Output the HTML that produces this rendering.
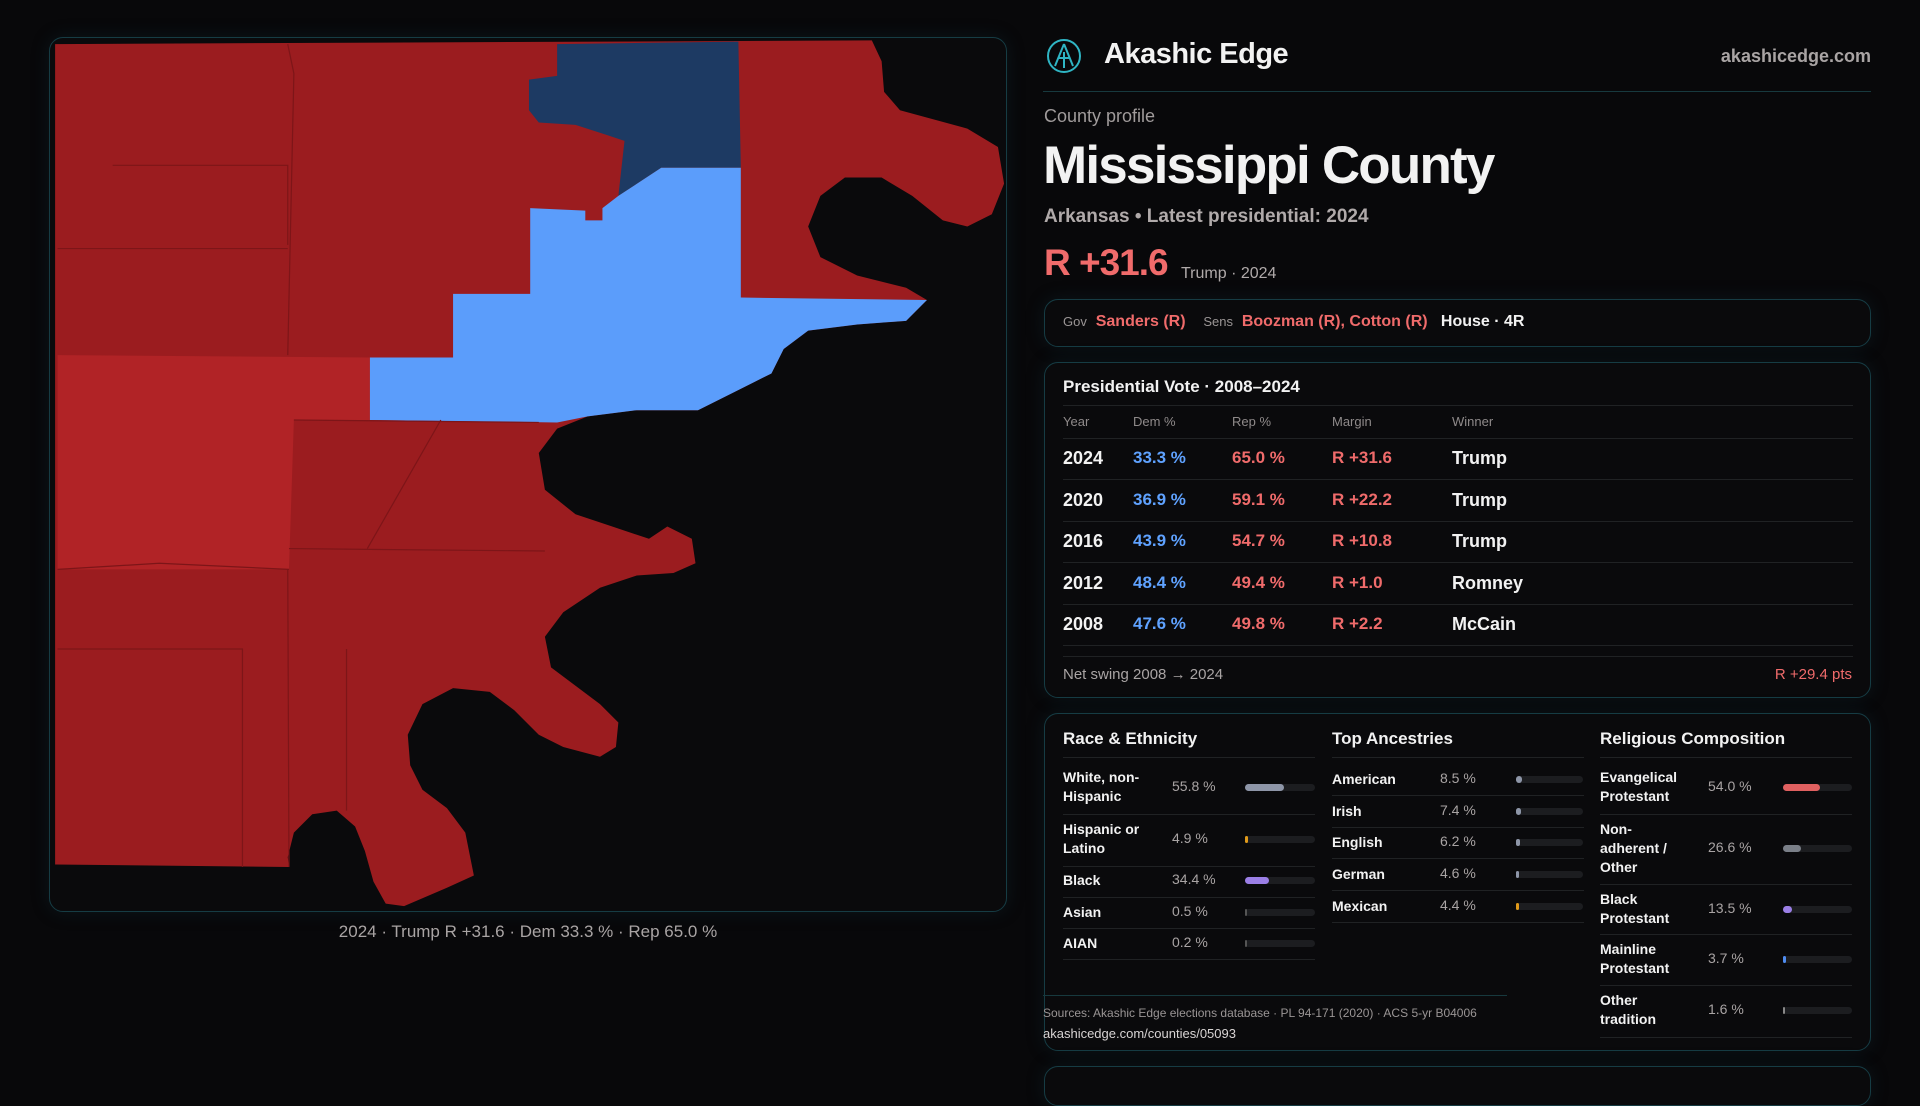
<!DOCTYPE html>
<html><head><meta charset="utf-8">
<style>
*{margin:0;padding:0;box-sizing:border-box}
body{width:1920px;height:1080px;background:#08080a;font-family:"Liberation Sans",sans-serif;color:#f2f2f2;position:relative;overflow:hidden}
.a{position:absolute;white-space:nowrap}
.panel{position:absolute;border:1px solid #163c44;border-radius:14px;background:#0a0a0c;box-shadow:0 0 18px rgba(20,60,70,.25)}
.red{color:#f06b6b}.blue{color:#5fa2ff}.grey{color:#9a9595}
.line{position:absolute;height:1px;background:#202224}
.fill{position:absolute;left:0;top:0;height:7px;border-radius:4px}
</style></head><body>
<div class="panel" style="left:49px;top:37px;width:958px;height:875px;background:#0a0a0c"></div>
<svg class="a" style="left:0;top:0" width="1920" height="1080" viewBox="0 0 1568 882">
<path fill="#9b1c1f" d="M45,36 L712,33 L720,50 L722,75 L735,90 L790,105 L815,120 L820,150 L810,175 L790,185 L770,180 L745,160 L720,145 L690,145 L670,160 L660,185 L670,210 L700,225 L740,235 L757,245 L740,262 L700,265 L660,270 L640,285 L630,305 L600,320 L570,335 L520,335 L480,340 L455,350 L440,370 L445,400 L470,420 L500,430 L530,440 L545,430 L565,440 L568,460 L550,468 L520,470 L490,480 L460,500 L445,520 L450,545 L470,560 L490,575 L505,590 L503,610 L490,618 L460,610 L440,600 L420,580 L400,565 L370,562 L345,575 L333,600 L335,625 L345,645 L365,660 L380,680 L387,715 L365,725 L330,740 L315,738 L305,720 L298,695 L290,675 L275,662 L255,665 L240,680 L235,700 L236,708 L45,706 Z"/>
<path fill="#1d3a63" d="M455,36 L603,34 L605,137 L540,137 L505,160 L510,115 L495,110 L470,102 L440,100 L432,90 L432,65 L455,62 Z"/>
<path fill="#5b9dfb" d="M433,170 L478,172 L478,180 L492,180 L492,170 L505,160 L540,137 L605,137 L605,243 L757,245 L740,262 L700,265 L660,270 L640,285 L630,305 L600,320 L570,335 L520,335 L480,340 L455,345 L302,343 L302,292 L370,292 L370,240 L433,240 Z"/>
<path fill="#b12326" d="M47,290 L302,292 L302,343 L240,343 L236,465 L47,465 Z"/>
<g fill="none" stroke="#7d1518" stroke-width="1">
<path d="M235,36 L240,60 L235,290"/><path d="M47,203 L235,203"/><path d="M92,135 L235,135 L235,200"/><path d="M235,465 L236,708"/><path d="M47,530 L198,530 L198,708"/><path d="M283,530 L283,662"/><path d="M240,343 L440,345"/><path d="M236,448 L445,450"/><path d="M300,448 L360,343"/><path d="M47,465 L130,460 L236,465"/>
</g>
</svg>
<div class="a grey" style="left:0;width:1056px;text-align:center;top:922px;font-size:17px;color:#a9a4a4">2024 · Trump R +31.6 · Dem 33.3 % · Rep 65.0 %</div>

<svg class="a" style="left:1046px;top:38px" width="36" height="36" viewBox="0 0 36 36"><circle cx="18" cy="18" r="16" fill="none" stroke="#2fb5c4" stroke-width="2"/><path d="M18,6 L9,28 M18,6 L27,28 M12,20 L24,20 M18,14 L18,30" stroke="#2fb5c4" stroke-width="2" fill="none"/></svg>
<div class="a" style="left:1104px;top:38px;font-size:29px;font-weight:bold;letter-spacing:-0.5px">Akashic Edge</div>
<div class="a grey" style="right:49px;top:46px;font-size:18px;font-weight:bold;color:#a9a4a4">akashicedge.com</div>
<div class="line" style="left:1043px;top:91px;width:828px;background:#17393e"></div>
<div class="a grey" style="left:1044px;top:106px;font-size:18px;color:#a09b9b">County profile</div>
<div class="a" style="left:1043px;top:135px;font-size:53px;font-weight:bold;letter-spacing:-1.8px">Mississippi County</div>
<div class="a grey" style="left:1044px;top:206px;font-size:19px;font-weight:bold;color:#b0aaaa">Arkansas • Latest presidential: 2024</div>
<div class="a red" style="left:1044px;top:242px;font-size:37px;font-weight:bold;letter-spacing:-1px">R +31.6</div>
<div class="a grey" style="left:1181px;top:265px;font-size:16px;color:#b0aaaa">Trump · 2024</div>

<div class="panel" style="left:1044px;top:299px;width:827px;height:48px"></div>
<div class="a" style="left:1063px;top:313px;font-size:16px;font-weight:bold"><span class="grey" style="font-size:13px;font-weight:normal">Gov</span>&nbsp; <span class="red">Sanders (R)</span>&nbsp;&nbsp;&nbsp; <span class="grey" style="font-size:13px;font-weight:normal">Sens</span>&nbsp; <span class="red">Boozman (R), Cotton (R)</span>&nbsp;&nbsp; House · 4R</div>

<div class="panel" style="left:1044px;top:362px;width:827px;height:336px"></div>
<div class="a" style="left:1063px;top:377px;font-size:17px;font-weight:bold">Presidential Vote · 2008–2024</div>
<div class="line" style="left:1063px;top:405px;width:790px"></div>
<div id="tbl"></div>
<div class="line" style="left:1063px;top:656px;width:790px"></div>
<div class="a grey" style="left:1063px;top:666px;font-size:15px;color:#a9a4a4">Net swing 2008 → 2024</div>
<div class="a red" style="right:68px;top:666px;font-size:15px">R +29.4 pts</div>

<div class="panel" style="left:1044px;top:713px;width:827px;height:338px"></div>
<div class="panel" style="left:1044px;top:1066px;width:827px;height:40px"></div>
<div class="a" style="left:1063px;top:729px;font-size:17px;font-weight:bold">Race &amp; Ethnicity</div>
<div class="a" style="left:1332px;top:729px;font-size:17px;font-weight:bold">Top Ancestries</div>
<div class="a" style="left:1600px;top:729px;font-size:17px;font-weight:bold">Religious Composition</div>
<div class="line" style="left:1063px;top:757px;width:252px"></div>
<div class="line" style="left:1332px;top:757px;width:252px"></div>
<div class="line" style="left:1600px;top:757px;width:252px"></div>
<div id="demo"></div>
<div class="line" style="left:1043px;top:995px;width:464px;background:#17393e"></div>
<div class="a grey" style="left:1043px;top:1006px;font-size:12px;color:#9a9595">Sources: Akashic Edge elections database · PL 94-171 (2020) · ACS 5-yr B04006</div>
<div class="a" style="left:1043px;top:1026px;font-size:13px;color:#d8d4d4">akashicedge.com/counties/05093</div>

<script>
const years=["2024","2020","2016","2012","2008"];
const demPct=[33.3,36.9,43.9,48.4,47.6];
const repPct=[65.0,59.1,54.7,49.4,49.8];
const margins=["R +31.6","R +22.2","R +10.8","R +1.0","R +2.2"];
const winners=["Trump","Trump","Trump","Romney","McCain"];
const raceLabels=["White, non-<br>Hispanic","Hispanic or<br>Latino","Black","Asian","AIAN"];
const raceValues=[55.8,4.9,34.4,0.5,0.2];
const ancLabels=["American","Irish","English","German","Mexican"];
const ancValues=[8.5,7.4,6.2,4.6,4.4];
const relLabels=["Evangelical<br>Protestant","Non-<br>adherent /<br>Other","Black<br>Protestant","Mainline<br>Protestant","Other<br>tradition"];
const relValues=[54.0,26.6,13.5,3.7,1.6];

const tbl=document.getElementById('tbl');
function add(parent,html,style,cls,name){const d=document.createElement('div');d.className='a '+(cls||'');d.style.cssText=style;d.innerHTML=html;


parent.appendChild(d);return d;}
const cols=[1063,1133,1232,1332,1452];
["Year","Dem %","Rep %","Margin","Winner"].forEach((h,i)=>add(tbl,h,`left:${cols[i]}px;top:414px;font-size:13px;color:#8f8a8a`,'', 'column-header'));
add(tbl,'',`left:1063px;top:438px;width:790px;height:1px;background:#202224`,'','header-rule');
years.forEach((y,i)=>{const top=448+i*41.5;
add(tbl,y,`left:1063px;top:${top}px;font-size:18px;font-weight:bold`,'','row-year');
add(tbl,demPct[i].toFixed(1)+' %',`left:1133px;top:${top}px;font-size:17px;font-weight:bold`,'blue','row-dem');
add(tbl,repPct[i].toFixed(1)+' %',`left:1232px;top:${top}px;font-size:17px;font-weight:bold`,'red','row-rep');
add(tbl,margins[i],`left:1332px;top:${top}px;font-size:17px;font-weight:bold`,'red','row-margin');
add(tbl,winners[i],`left:1452px;top:${top}px;font-size:18px;font-weight:bold`,'','row-winner');
add(tbl,'',`left:1063px;top:${top+31}px;width:790px;height:1px;background:#202224`,'','row-rule');});

const demo=document.getElementById('demo');
function block(x,labels,vals,tops,rules,colors,valX,barX,barW,max){
labels.forEach((l,i)=>{const lines=l.split('<br>').length;const t=tops[i];
add(demo,l,`left:${x}px;top:${t-lines*9.5}px;font-size:14px;line-height:19px;font-weight:bold`,'','demo-label');
add(demo,vals[i].toFixed(1)+' %',`left:${valX}px;top:${t-9}px;font-size:14px;color:#a9a4a4`,'','demo-value');
const b=add(demo,'',`left:${barX}px;top:${t-3}px;width:${barW}px;height:7px;border-radius:4px;background:#1c1d20`,'','demo-bar-track');
const f=document.createElement('div');f.className='fill';f.style.width=Math.max(2,barW*vals[i]/max)+'px';f.style.background=colors[i];


b.appendChild(f);
add(demo,'',`left:${x}px;top:${rules[i]}px;width:252px;height:1px;background:#202224`,'','demo-rule');});}
block(1063,raceLabels,raceValues,[787,839,880,912,943],[814,866,897,928,959],["#8e96a8","#e09a1a","#9b7fe6","#555","#555"],1172,1245,70,100);
block(1332,ancLabels,ancValues,[779,811,842,874,906],[795,827,858,890,922],["#8e96a8","#8e96a8","#8e96a8","#8e96a8","#e09a1a"],1440,1516,67,100);
block(1600,relLabels,relValues,[787,848,909,959,1010],[814,884,934,985,1037],["#e06060","#7a7f88","#9b7fe6","#4f8cf0","#888"],1708,1783,69,100);
</script>
</body></html>
